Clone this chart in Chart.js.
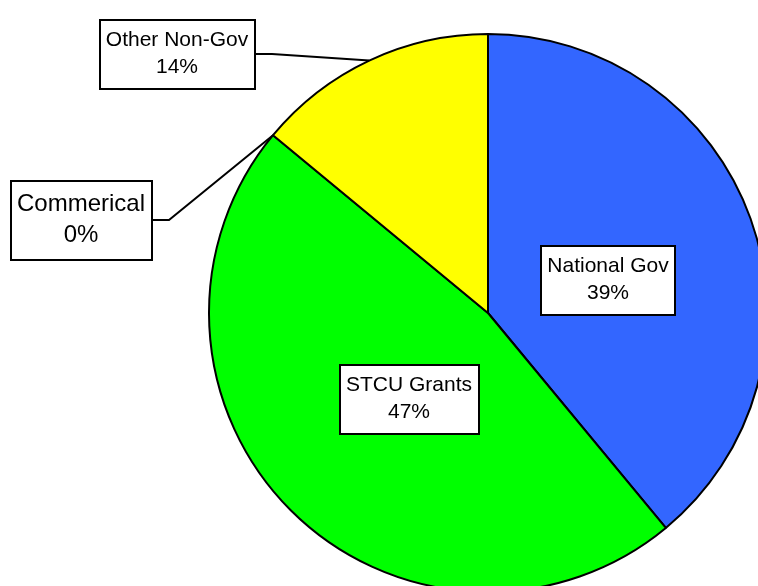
<!DOCTYPE html>
<html>
<head>
<meta charset="utf-8">
<script src="https://cdn.jsdelivr.net/npm/chart.js@4/dist/chart.umd.min.js"></script>
<style>
    html, body { margin: 0; padding: 0; background: #ffffff; overflow: hidden; }
    #wrap { position: absolute; left: 0; top: 0; width: 800px; height: 640px; }
</style>
</head>
<body>
<div id="wrap"><canvas id="fundingPie" width="800" height="640"></canvas></div>
<script>
(() => {
    "use strict";

    const categories = ["National Gov", "STCU Grants", "Commerical", "Other Non-Gov"];
    const shares = [39, 47, 0, 14];
    const sliceColors = ["#3366ff", "#00ff00", "#ff00ff", "#ffff00"];

    // Callout placement per slice, offsets from the pie centre.
    // "inside" boxes sit on the slice; "outside" boxes get a leader line to the rim.
    const callouts = [
        { dx: 120, dy: -33, size: 21, inside: true },
        { dx: -79, dy: 86, size: 21, inside: true },
        { dx: -407, dy: -93, size: 24, inside: false, elbow: 17 },
        { dx: -311, dy: -259, size: 21, inside: false, elbow: 17 }
    ];

    const FONT = "'Liberation Sans', Arial, sans-serif";

    const calloutPlugin = {
        id: "calloutBoxes",
        afterDatasetsDraw(chart) {
            const ctx = chart.ctx;
            const meta = chart.getDatasetMeta(0);
            const total = shares.reduce((a, b) => a + b, 0);

            meta.data.forEach((arc, i) => {
                const spec = callouts[i];
                const { x: cx, y: cy, outerRadius, startAngle, endAngle } = arc.getProps(
                    ["x", "y", "outerRadius", "startAngle", "endAngle"], true);
                const lines = [categories[i], Math.round(shares[i] / total * 100) + "%"];

                ctx.save();
                ctx.font = `${spec.size}px ${FONT}`;
                const textW = Math.max(...lines.map((t) => ctx.measureText(t).width));
                const lineH = spec.size * 1.3;
                const boxW = Math.round(textW + 13);
                const boxH = Math.round(lineH * 2 + spec.size * 0.7);
                const bx = cx + spec.dx;
                const by = cy + spec.dy;
                const left = Math.round(bx - boxW / 2);
                const top = Math.round(by - boxH / 2);

                if (!spec.inside) {
                    const mid = (startAngle + endAngle) / 2;
                    const rimX = cx + Math.cos(mid) * outerRadius;
                    const rimY = cy + Math.sin(mid) * outerRadius;
                    ctx.beginPath();
                    ctx.moveTo(left + boxW, by);
                    ctx.lineTo(left + boxW + spec.elbow, by);
                    ctx.lineTo(rimX, rimY);
                    ctx.strokeStyle = "#000000";
                    ctx.lineWidth = 2;
                    ctx.stroke();
                }

                ctx.fillStyle = "#ffffff";
                ctx.fillRect(left, top, boxW, boxH);
                ctx.strokeStyle = "#000000";
                ctx.lineWidth = 2;
                ctx.strokeRect(left, top, boxW, boxH);

                ctx.fillStyle = "#000000";
                ctx.textAlign = "center";
                ctx.textBaseline = "middle";
                ctx.fillText(lines[0], bx, by - lineH / 2);
                ctx.fillText(lines[1], bx, by + lineH / 2);
                ctx.restore();
            });
        }
    };

    new Chart(document.getElementById("fundingPie"), {
        type: "pie",
        data: {
            labels: categories,
            datasets: [
                {
                    data: shares,
                    backgroundColor: sliceColors,
                    borderColor: "#000000",
                    borderWidth: 2
                }
            ]
        },
        options: {
            responsive: false,
            animation: false,
            events: [],
            layout: {
                padding: { left: 208, top: 33, right: 32, bottom: 47 }
            },
            plugins: {
                legend: { display: false },
                tooltip: { enabled: false }
            }
        },
        plugins: [calloutPlugin]
    });
})();
</script>
</body>
</html>
